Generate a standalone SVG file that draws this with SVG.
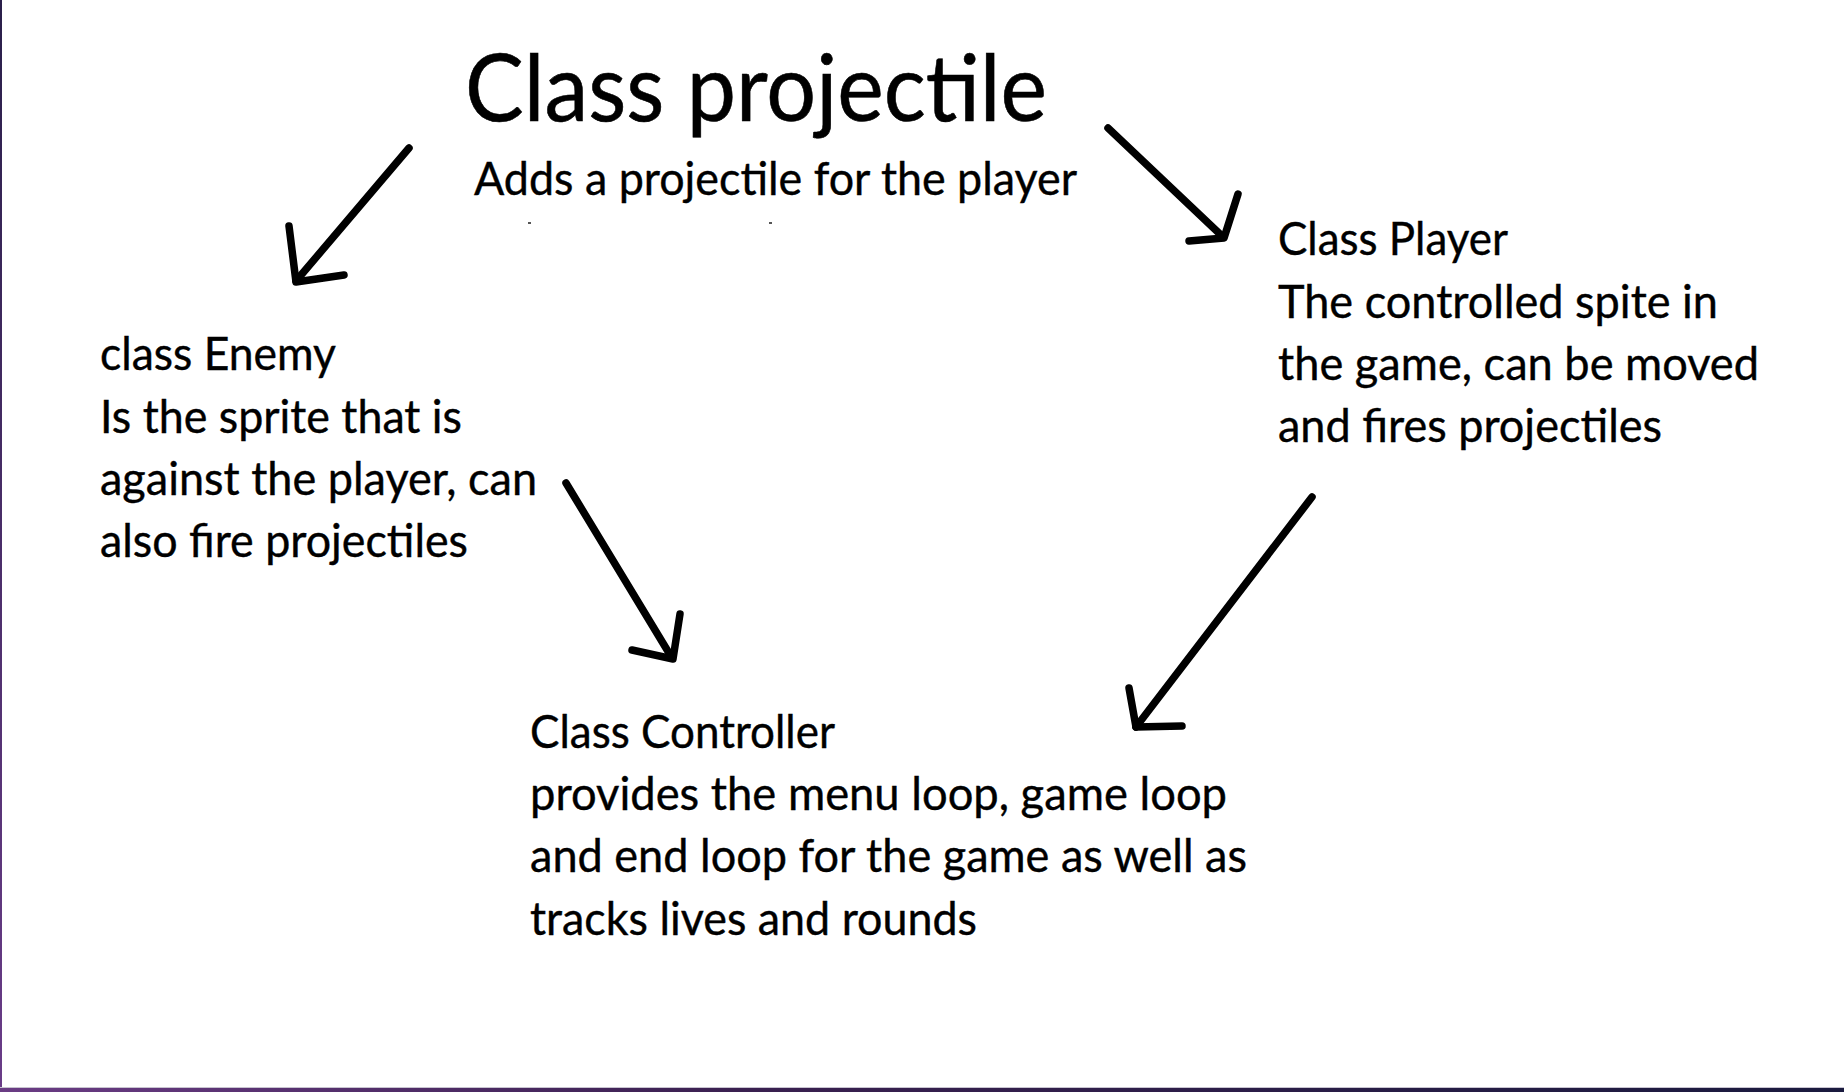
<svg xmlns="http://www.w3.org/2000/svg" width="1844" height="1092" viewBox="0 0 1844 1092">
<defs>
<linearGradient id="bottomBar" x1="0" y1="0" x2="1" y2="0">
<stop offset="0" stop-color="#6a3c84"/>
<stop offset="0.4" stop-color="#3a2050"/>
<stop offset="1" stop-color="#1a1a3e"/>
</linearGradient>
<linearGradient id="leftBar" x1="0" y1="0" x2="0" y2="1">
<stop offset="0" stop-color="#2a1f4a"/>
<stop offset="1" stop-color="#6a3c88"/>
</linearGradient>
</defs>
<style>
.t{font-family:Lato,"Open Sans","Liberation Sans",sans-serif;fill:#000;stroke:#000;stroke-width:0.4;}
.title{font-size:94px;stroke-width:0.6;}
.body{font-size:46px;}
.arrow{fill:none;stroke:#000;stroke-width:7.5;stroke-linecap:round;stroke-linejoin:round;}
</style>
<rect x="0" y="0" width="1844" height="1092" fill="#ffffff"/>
<rect x="0" y="0" width="2" height="1088" fill="url(#leftBar)"/>
<rect x="0" y="1087" width="1844" height="1" fill="#c8c4d0"/>
<rect x="0" y="1088" width="1844" height="4" fill="url(#bottomBar)"/>

<g id="projectile">
<text class="t title" x="465" y="121" textLength="582" lengthAdjust="spacingAndGlyphs">Class projectile</text>
<text class="t body" x="474" y="195" textLength="603" lengthAdjust="spacingAndGlyphs">Adds a projectile for the player</text>
<rect x="528" y="222" width="3" height="2" fill="#555"/>
<rect x="769" y="222" width="3" height="2" fill="#555"/>
</g>

<g id="enemy">
<text class="t body" x="100" y="370" textLength="236" lengthAdjust="spacingAndGlyphs">class Enemy</text>
<text class="t body" x="100" y="433" textLength="362" lengthAdjust="spacingAndGlyphs">Is the sprite that is</text>
<text class="t body" x="100" y="495" textLength="437" lengthAdjust="spacingAndGlyphs">against the player, can</text>
<text class="t body" x="100" y="557" textLength="368" lengthAdjust="spacingAndGlyphs">also fire projectiles</text>
</g>

<g id="player">
<text class="t body" x="1278" y="255" textLength="230" lengthAdjust="spacingAndGlyphs">Class Player</text>
<text class="t body" x="1278" y="318" textLength="440" lengthAdjust="spacingAndGlyphs">The controlled spite in</text>
<text class="t body" x="1278" y="380" textLength="481" lengthAdjust="spacingAndGlyphs">the game, can be moved</text>
<text class="t body" x="1278" y="442" textLength="384" lengthAdjust="spacingAndGlyphs">and fires projectiles</text>
</g>

<g id="controller">
<text class="t body" x="530" y="748" textLength="305" lengthAdjust="spacingAndGlyphs">Class Controller</text>
<text class="t body" x="530" y="810" textLength="697" lengthAdjust="spacingAndGlyphs">provides the menu loop, game loop</text>
<text class="t body" x="530" y="872" textLength="717" lengthAdjust="spacingAndGlyphs">and end loop for the game as well as</text>
<text class="t body" x="530" y="935" textLength="447" lengthAdjust="spacingAndGlyphs">tracks lives and rounds</text>
</g>

<g id="connectors">
<polyline class="arrow" points="409,148 296,281"/>
<polyline class="arrow" points="289,226 296,282 344,275"/>
<polyline class="arrow" points="1108,128 1222,236"/>
<polyline class="arrow" points="1238,194 1224,238 1189,241"/>
<polyline class="arrow" points="566,483 672,658"/>
<polyline class="arrow" points="680,614 673,659 632,650"/>
<polyline class="arrow" points="1312,497 1136,727"/>
<polyline class="arrow" points="1129,688 1136,727 1182,726"/>
</g>
</svg>
